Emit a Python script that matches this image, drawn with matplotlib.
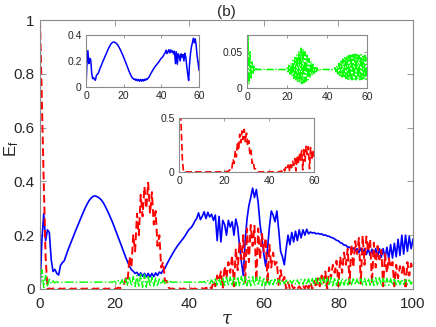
"""Energy fraction E_f vs tau with three insets (panel b)"""
import numpy as np
import matplotlib
matplotlib.use("Agg")
import matplotlib.pyplot as plt

tau = np.arange(0, 100.5, 0.5)

blue_vals = [
    0.00, 0.18, 0.28, 0.18, 0.22, 0.21, 0.11, 0.065, 0.073, 0.058,
    0.052, 0.088, 0.098, 0.105, 0.125, 0.145, 0.162, 0.180, 0.198, 0.215,
    0.232, 0.248, 0.265, 0.282, 0.298, 0.312, 0.325, 0.335, 0.342, 0.346,
    0.345, 0.342, 0.337, 0.330, 0.320, 0.307, 0.293, 0.278, 0.262, 0.246,
    0.228, 0.210, 0.192, 0.173, 0.154, 0.135, 0.117, 0.100, 0.085, 0.072,
    0.066, 0.058, 0.062, 0.050, 0.060, 0.047, 0.058, 0.045, 0.058, 0.045,
    0.058, 0.046, 0.060, 0.050, 0.063, 0.058, 0.070, 0.077, 0.092, 0.105,
    0.118, 0.130, 0.142, 0.153, 0.163, 0.172, 0.181, 0.190, 0.200, 0.212,
    0.222, 0.228, 0.238, 0.252, 0.262, 0.283, 0.258, 0.270, 0.287, 0.262,
    0.285, 0.268, 0.278, 0.255, 0.275, 0.180, 0.270, 0.175, 0.255, 0.240,
    0.200, 0.255, 0.230, 0.250, 0.200, 0.260, 0.230, 0.160, 0.100, 0.050,
    0.180, 0.260, 0.310, 0.340, 0.375, 0.340, 0.370, 0.320, 0.240, 0.190,
    0.130, 0.085, 0.150, 0.230, 0.290, 0.275, 0.250, 0.290, 0.220, 0.140,
    0.120, 0.090, 0.150, 0.200, 0.165, 0.210, 0.175, 0.215, 0.180, 0.220,
    0.190, 0.220, 0.200, 0.222, 0.205, 0.212, 0.208, 0.210, 0.205, 0.207,
    0.204, 0.205, 0.200, 0.201, 0.197, 0.196, 0.192, 0.190, 0.186, 0.181,
    0.179, 0.172, 0.170, 0.163, 0.163, 0.155, 0.156, 0.147, 0.152, 0.140,
    0.150, 0.135, 0.152, 0.132, 0.150, 0.128, 0.150, 0.125, 0.148, 0.122,
    0.150, 0.122, 0.150, 0.118, 0.150, 0.115, 0.155, 0.112, 0.165, 0.115,
    0.170, 0.120, 0.185, 0.125, 0.200, 0.130, 0.200, 0.140, 0.195, 0.150,
    0.185,
]

red_vals = [
    1.00, 0.70, 0.40, 0.12, 0.0, 0.002, 0.0, 0.002, 0.0, 0.002,
    0.0, 0.002, 0.0, 0.002, 0.0, 0.002, 0.0, 0.002, 0.0, 0.002,
    0.0, 0.002, 0.0, 0.002, 0.0, 0.002, 0.0, 0.002, 0.0, 0.002,
    0.0, 0.002, 0.0, 0.002, 0.0, 0.002, 0.0, 0.002, 0.0, 0.002,
    0.0, 0.002, 0.005, 0.003, 0.01, 0.015, 0.04, 0.03, 0.12, 0.08,
    0.20, 0.14, 0.28, 0.20, 0.35, 0.27, 0.38, 0.30, 0.395, 0.28,
    0.36, 0.24, 0.29, 0.16, 0.20, 0.08, 0.10, 0.03, 0.03, 0.005,
    0.0, 0.002, 0.0, 0.002, 0.0, 0.002, 0.0, 0.002, 0.0, 0.002,
    0.0, 0.002, 0.0, 0.002, 0.0, 0.002, 0.0, 0.003, 0.0, 0.005,
    0.0, 0.01, 0.0, 0.03, 0.01, 0.05, 0.03, 0.065, 0.005, 0.085,
    0.04, 0.10, 0.06, 0.125, 0.01, 0.15, 0.07, 0.175, 0.11, 0.20,
    0.02, 0.225, 0.10, 0.238, 0.16, 0.235, 0.03, 0.225, 0.11, 0.205,
    0.14, 0.19, 0.02, 0.165, 0.08, 0.135, 0.09, 0.10, 0.01, 0.07,
    0.03, 0.045, 0.0, 0.025, 0.0, 0.015, 0.0, 0.01, 0.0, 0.01,
    0.0, 0.015, 0.0, 0.02, 0.0, 0.025, 0.0, 0.03, 0.005, 0.04,
    0.01, 0.05, 0.02, 0.065, 0.0, 0.08, 0.04, 0.09, 0.06, 0.105,
    0.01, 0.12, 0.06, 0.135, 0.09, 0.15, 0.02, 0.165, 0.08, 0.178,
    0.13, 0.19, 0.02, 0.198, 0.09, 0.195, 0.14, 0.185, 0.02, 0.172,
    0.08, 0.16, 0.11, 0.145, 0.01, 0.13, 0.06, 0.115, 0.08, 0.10,
    0.01, 0.09, 0.04, 0.085, 0.06, 0.09, 0.0, 0.10, 0.05, 0.095,
    0.07,
]

green_vals = [
    0.0, 0.072, 0.005, 0.050, 0.012, 0.036, 0.019, 0.030, 0.023, 0.027,
    0.025, 0.026, 0.025, 0.026, 0.025, 0.026, 0.025, 0.026, 0.025, 0.026,
    0.025, 0.026, 0.025, 0.026, 0.025, 0.026, 0.025, 0.026, 0.025, 0.026,
    0.025, 0.026, 0.025, 0.026, 0.025, 0.026, 0.025, 0.026, 0.025, 0.026,
    0.028, 0.022, 0.031, 0.019, 0.034, 0.016, 0.038, 0.013, 0.042, 0.011,
    0.046, 0.009, 0.050, 0.007, 0.055, 0.006, 0.054, 0.007, 0.050, 0.009,
    0.045, 0.011, 0.041, 0.014, 0.037, 0.017, 0.033, 0.020, 0.030, 0.022,
    0.028, 0.024, 0.026, 0.025, 0.026, 0.025, 0.026, 0.025, 0.026, 0.025,
    0.026, 0.025, 0.026, 0.025, 0.026, 0.025, 0.026, 0.025, 0.028, 0.022,
    0.031, 0.019, 0.034, 0.017, 0.037, 0.015, 0.040, 0.014, 0.042, 0.013,
    0.044, 0.012, 0.045, 0.011, 0.047, 0.011, 0.046, 0.012, 0.047, 0.011,
    0.046, 0.012, 0.045, 0.011, 0.046, 0.012, 0.044, 0.013, 0.045, 0.012,
    0.043, 0.013, 0.040, 0.015, 0.038, 0.016, 0.036, 0.017, 0.035, 0.018,
    0.034, 0.019, 0.033, 0.019, 0.032, 0.020, 0.033, 0.019, 0.034, 0.018,
    0.035, 0.017, 0.036, 0.016, 0.038, 0.015, 0.039, 0.014, 0.040, 0.014,
    0.041, 0.013, 0.042, 0.013, 0.042, 0.012, 0.043, 0.012, 0.042, 0.013,
    0.041, 0.013, 0.040, 0.014, 0.039, 0.015, 0.038, 0.015, 0.038, 0.016,
    0.037, 0.016, 0.038, 0.015, 0.039, 0.014, 0.040, 0.014, 0.041, 0.013,
    0.042, 0.012, 0.042, 0.012, 0.041, 0.013, 0.040, 0.014, 0.038, 0.015,
    0.037, 0.016, 0.036, 0.016, 0.036, 0.017, 0.035, 0.017, 0.034, 0.018,
    0.033,
]

blue = np.array(blue_vals)
red = np.array(red_vals)
green = np.array(green_vals)

plt.rcParams['font.family'] = ['Liberation Sans', 'DejaVu Sans']
plt.rcParams['mathtext.fontset'] = 'custom'
plt.rcParams['mathtext.rm'] = 'Liberation Sans'
plt.rcParams['mathtext.it'] = 'Liberation Sans:italic'

SPINE = '#8a8a8a'
TXT = '#262626'
BLUE = '#0000ff'
RED = '#ff0000'
GREEN = '#00ff00'


def style(ax, size, ticklen):
    """MATLAB-like box with inward ticks"""
    for s in ax.spines.values():
        s.set_color(SPINE)
        s.set_linewidth(0.8)
    ax.tick_params(direction='in', length=ticklen, width=0.6, color=SPINE,
                   labelcolor=TXT, labelsize=size, top=True, right=True)


fig = plt.figure(figsize=(4.36, 3.27), dpi=100)
ax = fig.add_axes([40 / 436, 1 - 289 / 327, 373 / 436, 269 / 327])
ax.plot(tau, blue, color=BLUE, lw=1.2)
ax.plot(tau, red, color=RED, lw=1.4, ls=(0, (4, 2)))
ax.plot(tau, green, color=GREEN, lw=1.0, ls='-.')
ax.set_xlim(0, 100)
ax.set_ylim(0, 1)
ax.set_xticks([0, 20, 40, 60, 80, 100])
ax.set_yticks([0, 0.2, 0.4, 0.6, 0.8, 1])
ax.set_yticklabels(['0', '0.2', '0.4', '0.6', '0.8', '1'])
style(ax, 11, 4)
ax.tick_params(axis='x', pad=6)
ax.tick_params(axis='y', pad=4)
ax.set_title('(b)', fontsize=11, color=TXT, pad=3)
ax.set_xlabel('τ', fontsize=13, family='DejaVu Serif', style='italic',
              color=TXT, labelpad=-1)
ax.set_ylabel(r'E$_\mathrm{f}$', fontsize=12, color=TXT)
ax.yaxis.set_label_coords(-0.052, 0.52)

m = tau <= 60

# inset: blue
a1 = fig.add_axes([86 / 436, 1 - 87 / 327, 113 / 436, 52 / 327])
a1.plot(tau[m], blue[m], color=BLUE, lw=1.1)
a1.set_xlim(0, 60)
a1.set_ylim(0, 0.4)
a1.set_xticks([0, 20, 40, 60])
a1.set_yticks([0, 0.2, 0.4])
a1.set_yticklabels(['0', '0.2', '0.4'])
style(a1, 7.5, 2)
a1.tick_params(pad=3)

# inset: green
a2 = fig.add_axes([247 / 436, 1 - 88 / 327, 120 / 436, 53 / 327])
a2.plot(tau[m], green[m], color=GREEN, lw=1.0, ls='-.')
a2.set_xlim(0, 60)
a2.set_ylim(0, 0.073)
a2.set_xticks([0, 20, 40, 60])
a2.set_yticks([0, 0.05])
a2.set_yticklabels(['0', '0.05'])
style(a2, 7.5, 2)
a2.tick_params(pad=3)

# inset: red
a3 = fig.add_axes([179 / 436, 1 - 172 / 327, 135 / 436, 54 / 327])
a3.plot(tau[m], red[m], color=RED, lw=1.2, ls=(0, (4, 2)))
a3.set_xlim(0, 60)
a3.set_ylim(0, 0.5)
a3.set_xticks([0, 20, 40, 60])
a3.set_yticks([0, 0.5])
a3.set_yticklabels(['0', '0.5'])
style(a3, 7.5, 2)
a3.tick_params(pad=3)

fig.savefig('out.png', dpi=100)
